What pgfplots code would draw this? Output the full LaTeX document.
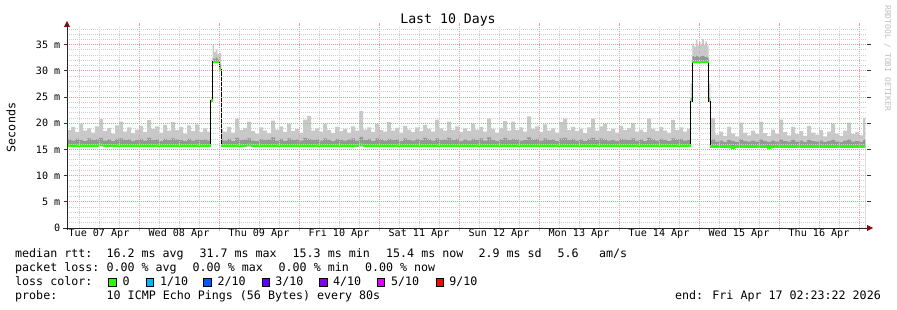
\documentclass[border=0pt]{standalone}
\usepackage{fontspec}
\setmainfont{DejaVu Sans Mono}
\usepackage{pgfplots}
\pgfplotsset{compat=1.18}
\usepackage{pgfplotstable}
\usetikzlibrary{arrows.meta}

\definecolor{smokelt}{RGB}{200,200,200}
\definecolor{smokedk}{RGB}{150,150,150}
\definecolor{gridminor}{RGB}{205,205,205}
\definecolor{gridmajor}{RGB}{242,150,150}
\definecolor{medgreen}{RGB}{38,255,0}
\definecolor{axred}{RGB}{128,16,16}
\definecolor{lossA}{RGB}{38,255,0}
\definecolor{lossB}{RGB}{0,184,255}
\definecolor{lossC}{RGB}{0,89,255}
\definecolor{lossD}{RGB}{94,0,255}
\definecolor{lossE}{RGB}{126,0,255}
\definecolor{lossF}{RGB}{221,0,255}
\definecolor{lossG}{RGB}{255,0,0}

\newcommand{\lgd}{\fontsize{11.65}{14}\selectfont}
\newcommand{\tkf}{\fontsize{10.1}{12}\selectfont}

% x in days since Tue 07 Apr 00:00; lt = light smoke top, dk = dark smoke top,
% md = median rtt (ms), base = lower edge of smoke (ms)
\pgfplotstableread{
x lt dk md base
0.10 18.7 16.9 15.8 15.6
0.15 19.3 16.7 15.8 15.6
0.20 18.3 17.0 15.8 15.6
0.25 19.9 16.8 15.8 15.6
0.30 18.6 16.6 15.8 15.6
0.35 19.0 17.1 15.8 15.6
0.40 18.2 16.8 15.8 15.6
0.45 19.4 16.9 15.8 15.6
0.50 20.8 17.2 15.9 15.6
0.55 18.5 16.7 15.8 15.6
0.60 19.1 16.9 15.8 15.6
0.65 18.0 16.6 15.8 15.6
0.70 19.6 17.0 15.8 15.6
0.75 20.3 17.1 15.8 15.6
0.80 18.4 16.8 15.8 15.6
0.85 19.2 16.9 15.8 15.6
0.90 18.1 16.6 15.8 15.6
0.95 18.8 16.8 15.8 15.6
1.00 19.5 17.0 15.8 15.6
1.05 18.3 16.7 15.8 15.6
1.10 20.6 17.2 15.8 15.6
1.15 18.9 16.8 15.8 15.6
1.20 19.4 16.9 15.7 15.6
1.25 18.2 16.6 15.8 15.6
1.30 19.7 17.0 15.8 15.6
1.35 18.6 16.8 15.8 15.6
1.40 20.2 17.1 15.8 15.6
1.45 18.7 16.9 15.7 15.6
1.50 19.3 16.8 15.8 15.6
1.55 18.0 16.6 15.8 15.6
1.60 19.6 17.0 15.7 15.6
1.65 18.5 16.7 15.8 15.6
1.70 19.8 16.9 15.8 15.6
1.75 18.3 16.8 15.8 15.6
1.80 19.0 16.9 15.8 15.6
1.85 18.4 16.7 15.8 15.6
1.896 24.3 24.3 24.3 24.1
1.919 35.0 32.4 31.7 31.5
1.94 33.6 32.3 31.7 31.5
1.96 34.1 32.5 31.7 31.5
1.98 33.2 32.2 31.7 31.5
2.004 33.4 31.2 30.3 30.1
2.025 18.9 16.9 15.8 15.6
2.05 18.4 16.7 15.8 15.6
2.10 19.3 17.0 15.8 15.6
2.15 18.2 16.6 15.8 15.6
2.20 20.9 17.2 15.8 15.6
2.25 18.7 16.8 15.8 15.6
2.30 19.1 16.9 15.8 15.6
2.35 20.3 17.1 15.9 15.6
2.40 18.5 16.7 15.8 15.6
2.45 18.0 16.6 15.8 15.6
2.50 19.2 17.0 15.8 15.6
2.55 18.6 16.8 15.8 15.6
2.60 18.1 16.9 15.7 15.6
2.65 20.5 17.3 15.8 15.6
2.70 18.8 16.7 15.8 15.6
2.75 19.4 17.0 15.8 15.6
2.80 18.3 16.6 15.8 15.6
2.85 19.9 17.1 15.8 15.6
2.90 18.5 16.8 15.8 15.6
2.95 18.9 16.9 15.8 15.6
3.00 18.2 16.7 15.8 15.6
3.05 20.7 17.2 15.8 15.6
3.10 21.4 17.0 15.8 15.6
3.15 18.6 16.8 15.7 15.6
3.20 19.0 16.9 15.8 15.6
3.25 18.4 16.7 15.8 15.6
3.30 19.9 17.1 15.8 15.6
3.35 18.7 16.8 15.8 15.6
3.40 18.1 16.6 15.8 15.6
3.45 19.3 17.0 15.8 15.6
3.50 18.5 16.8 15.8 15.6
3.55 18.9 16.7 15.8 15.6
3.60 18.2 16.9 15.8 15.6
3.65 19.4 17.1 15.8 15.6
3.70 18.6 16.7 15.8 15.6
3.75 22.3 17.4 15.9 15.6
3.80 18.8 16.8 15.8 15.6
3.85 19.2 17.0 15.8 15.6
3.90 18.3 16.6 15.8 15.6
3.95 19.9 17.1 15.8 15.6
4.00 18.7 16.9 15.8 15.6
4.05 18.4 16.7 15.8 15.6
4.10 20.2 17.0 15.8 15.6
4.15 18.6 16.8 15.8 15.6
4.20 19.1 16.9 15.8 15.6
4.25 18.2 16.6 15.8 15.6
4.30 19.5 17.1 15.8 15.6
4.35 18.8 16.8 15.8 15.6
4.40 18.3 16.7 15.8 15.6
4.45 19.2 17.0 15.8 15.6
4.50 18.5 16.8 15.8 15.6
4.55 19.7 17.2 15.8 15.6
4.60 18.9 16.9 15.8 15.6
4.65 18.4 16.7 15.8 15.6
4.70 20.7 17.1 15.8 15.6
4.75 19.0 16.8 15.8 15.6
4.80 18.6 16.9 15.8 15.6
4.85 20.3 17.2 15.8 15.6
4.90 18.7 16.8 15.8 15.6
4.95 19.4 17.0 15.8 15.6
5.00 18.3 16.6 15.8 15.6
5.05 19.0 16.9 15.8 15.6
5.10 18.5 16.7 15.8 15.6
5.15 19.9 17.0 15.8 15.6
5.20 18.8 16.8 15.8 15.6
5.25 19.3 17.1 15.8 15.6
5.30 18.4 16.7 15.8 15.6
5.35 20.9 17.3 15.8 15.6
5.40 18.9 16.8 15.8 15.6
5.45 18.2 16.6 15.8 15.6
5.50 19.1 16.9 15.8 15.6
5.55 20.4 17.2 15.8 15.6
5.60 18.6 16.8 15.8 15.6
5.65 20.3 17.0 15.8 15.6
5.70 18.7 16.9 15.8 15.6
5.75 19.2 16.7 15.8 15.6
5.80 18.4 16.8 15.8 15.6
5.85 21.3 17.3 15.8 15.6
5.90 18.9 16.9 15.8 15.6
5.95 19.4 17.0 15.8 15.6
6.00 18.3 16.7 15.8 15.6
6.05 19.8 17.1 15.8 15.6
6.10 18.6 16.8 15.8 15.6
6.15 19.0 16.9 15.8 15.6
6.20 18.2 16.6 15.8 15.6
6.25 20.2 17.1 15.8 15.6
6.30 20.9 17.2 15.8 15.6
6.35 18.7 16.8 15.8 15.6
6.40 19.3 17.0 15.8 15.6
6.45 18.5 16.7 15.8 15.6
6.50 18.9 16.9 15.8 15.6
6.55 18.1 16.6 15.8 15.6
6.60 19.2 17.0 15.8 15.6
6.65 20.9 17.2 15.8 15.6
6.70 18.6 16.8 15.8 15.6
6.75 19.4 17.1 15.8 15.6
6.80 19.9 16.9 15.8 15.6
6.85 18.5 16.7 15.8 15.6
6.90 18.9 16.8 15.8 15.6
6.95 18.2 16.6 15.8 15.6
7.00 19.5 17.0 15.8 15.6
7.05 18.7 16.9 15.8 15.6
7.10 19.1 16.8 15.8 15.6
7.15 20.0 17.1 15.8 15.6
7.20 18.4 16.7 15.8 15.6
7.25 18.8 16.9 15.8 15.6
7.30 18.3 16.6 15.8 15.6
7.35 20.9 17.2 15.8 15.6
7.40 18.9 16.9 15.8 15.6
7.45 18.5 16.7 15.8 15.6
7.50 19.3 17.0 15.8 15.6
7.55 18.6 16.8 15.8 15.6
7.60 18.2 16.6 15.8 15.6
7.65 20.6 17.1 15.8 15.6
7.70 18.7 16.9 15.8 15.6
7.75 19.2 17.0 15.8 15.6
7.80 18.4 16.7 15.8 15.6
7.85 18.9 16.8 15.8 15.6
7.896 27.6 24.8 24.1 24.0
7.916 35.2 32.8 31.7 31.5
7.94 34.6 32.6 31.7 31.5
7.96 35.9 32.9 31.7 31.5
7.98 34.8 32.7 31.7 31.5
8.00 35.5 32.6 31.7 31.5
8.02 34.9 32.8 31.7 31.5
8.04 36.1 32.9 31.7 31.5
8.06 35.0 32.7 31.7 31.5
8.08 35.6 32.6 31.7 31.5
8.10 34.8 32.5 31.7 31.5
8.121 27.6 24.8 24.1 24.0
8.141 21.0 16.9 15.5 15.3
8.20 17.8 16.5 15.5 15.3
8.25 18.4 16.7 15.5 15.3
8.30 17.6 16.4 15.5 15.3
8.35 19.3 16.8 15.5 15.3
8.40 18.0 16.6 15.4 15.3
8.45 17.5 16.4 15.5 15.3
8.50 20.1 16.9 15.5 15.3
8.55 18.2 16.6 15.5 15.3
8.60 17.7 16.5 15.5 15.3
8.65 18.6 16.7 15.5 15.3
8.70 17.9 16.5 15.5 15.3
8.75 20.3 16.9 15.5 15.3
8.80 18.1 16.6 15.5 15.3
8.85 17.6 16.4 15.4 15.3
8.90 18.8 16.7 15.5 15.3
8.95 18.0 16.5 15.5 15.3
9.00 20.7 16.9 15.5 15.3
9.05 18.3 16.6 15.5 15.3
9.10 17.7 16.5 15.5 15.3
9.15 19.3 16.8 15.5 15.3
9.20 17.9 16.5 15.5 15.3
9.25 18.5 16.7 15.5 15.3
9.30 17.6 16.4 15.5 15.3
9.35 19.5 16.8 15.5 15.3
9.40 18.2 16.6 15.5 15.3
9.45 17.8 16.5 15.5 15.3
9.50 18.7 16.7 15.5 15.3
9.55 17.5 16.4 15.5 15.3
9.60 18.4 16.6 15.5 15.3
9.65 19.9 16.8 15.5 15.3
9.70 18.0 16.5 15.5 15.3
9.75 17.6 16.4 15.5 15.3
9.80 18.6 16.7 15.5 15.3
9.85 20.1 16.9 15.5 15.3
9.90 17.9 16.5 15.5 15.3
9.95 18.3 16.6 15.5 15.3
10.00 17.7 16.4 15.5 15.3
10.05 21.0 16.8 15.5 15.3
10.08 21.0 16.8 15.5 15.3
}\smoke

\begin{document}
\begin{tikzpicture}[x=1pt,y=1pt]
\path[use as bounding box, fill=white] (0,0) rectangle (897,310);
\begin{axis}[
  at={(67pt,82pt)}, anchor=south west,
  scale only axis, width=800pt, height=201.7pt,
  xmin=0.1, xmax=10.1, ymin=0, ymax=38.5,
  axis on top,
  axis line style={draw=none},
  xtick={1,2,3,4,5,6,7,8,9,10},
  xticklabels={},
  extra x ticks={0.5,1.5,2.5,3.5,4.5,5.5,6.5,7.5,8.5,9.5},
  extra x tick labels={Tue 07 Apr,Wed 08 Apr,Thu 09 Apr,Fri 10 Apr,Sat 11 Apr,Sun 12 Apr,Mon 13 Apr,Tue 14 Apr,Wed 15 Apr,Thu 16 Apr},
  extra x tick style={grid=none, major tick length=0pt},
  minor xtick={0.25,0.5,0.75,1.25,1.5,1.75,2.25,2.5,2.75,3.25,3.5,3.75,4.25,4.5,4.75,5.25,5.5,5.75,6.25,6.5,6.75,7.25,7.5,7.75,8.25,8.5,8.75,9.25,9.5,9.75},
  ytick={0,5,10,15,20,25,30,35},
  yticklabels={0\hspace{12.5pt},5 m,10 m,15 m,20 m,25 m,30 m,35 m},
  minor ytick={1,2,3,4,6,7,8,9,11,12,13,14,16,17,18,19,21,22,23,24,26,27,28,29,31,32,33,34,36,37,38},
  xmajorgrids, xminorgrids, ymajorgrids, yminorgrids,
  minor grid style={gridminor, line width=0.8pt, dash pattern=on 1pt off 1pt},
  major grid style={gridmajor, line width=0.8pt, dash pattern=on 1pt off 1pt},
  tick align=outside,
  major tick length=3.5pt, minor tick length=0pt,
  xtick style={gridmajor, line width=0.8pt},
  ytick style={black!80, line width=0.8pt},
  xticklabel style={font=\tkf, inner sep=0pt, anchor=base, yshift=-9pt},
  yticklabel style={font=\tkf, inner sep=0pt, anchor=east, xshift=-3pt},
  clip=true,
]
\addplot[fill=smokelt, draw=none, const plot] table[x=x, y=lt]{\smoke} \closedcycle;
\addplot[fill=smokedk, draw=none, const plot] table[x=x, y=dk]{\smoke} \closedcycle;
\addplot[fill=white, draw=none, const plot] table[x=x, y=base]{\smoke} \closedcycle;
\addplot[black, line width=1pt, const plot] table[x=x, y=md]{\smoke};
\addplot[medgreen, line width=2.6pt, jump mark left] table[x=x, y=md]{\smoke};
\end{axis}
% axis lines with arrow heads
\draw[black!85, line width=0.9pt] (63,82) -- (868,82);
\fill[axred] (867,79) -- (873,82) -- (867,85) -- cycle;
\draw[black!85, line width=0.9pt] (67,80) -- (67,285);
\fill[axred] (64,283) -- (67,289) -- (70,283) -- cycle;
% title and axis label
\node[anchor=base, inner sep=0pt, font=\fontsize{13.2}{15}\selectfont] at (448,286.5) {Last 10 Days};
\node[anchor=base, inner sep=0pt, rotate=90, font=\lgd] at (15.5,182.5) {Seconds};
\node[anchor=base west, inner sep=0pt, rotate=-90, text=black!25, font=\fontsize{8}{9}\selectfont] at (885,305) {RRDTOOL / TOBI OETIKER};
% legend
\begin{scope}[every node/.style={anchor=base west, inner sep=0pt, font=\lgd}]
\node at (15,52) {median rtt:};
\node at (106.3,52) {16.2 ms avg};
\node at (199.3,52) {31.7 ms max};
\node at (292.5,52) {15.3 ms min};
\node at (386,52) {15.4 ms now};
\node at (478.3,52) {2.9 ms sd};
\node at (557.3,52) {5.6};
\node at (599,52) {am/s};
\node at (15,38) {packet loss:};
\node at (106.3,38) {0.00 \% avg};
\node at (192.5,38) {0.00 \% max};
\node at (278.5,38) {0.00 \% min};
\node at (364.8,38) {0.00 \% now};
\node at (15,24) {loss color:};
\node at (122.5,24) {0};
\node at (159.8,24) {1/10};
\node at (217.5,24) {2/10};
\node at (275.2,24) {3/10};
\node at (332.8,24) {4/10};
\node at (390.8,24) {5/10};
\node at (449.2,24) {9/10};
\node at (15,10) {probe:};
\node at (106.5,10) {10 ICMP Echo Pings (56 Bytes) every 80s};
\node[anchor=base east] at (881,10) {end: Fri Apr 17 02:23:22 2026};
\end{scope}
\begin{scope}[line width=0.7pt]
\filldraw[fill=lossA, draw=black] (108.7,23.6) rectangle (116.3,31.2);
\filldraw[fill=lossB, draw=black] (145.9,23.6) rectangle (153.5,31.2);
\filldraw[fill=lossC, draw=black] (203.5,23.6) rectangle (211.1,31.2);
\filldraw[fill=lossD, draw=black] (261.9,23.6) rectangle (269.5,31.2);
\filldraw[fill=lossE, draw=black] (319.5,23.6) rectangle (327.1,31.2);
\filldraw[fill=lossF, draw=black] (376.9,23.6) rectangle (384.5,31.2);
\filldraw[fill=lossG, draw=black] (435.9,23.6) rectangle (443.5,31.2);
\end{scope}
\end{tikzpicture}
\end{document}
